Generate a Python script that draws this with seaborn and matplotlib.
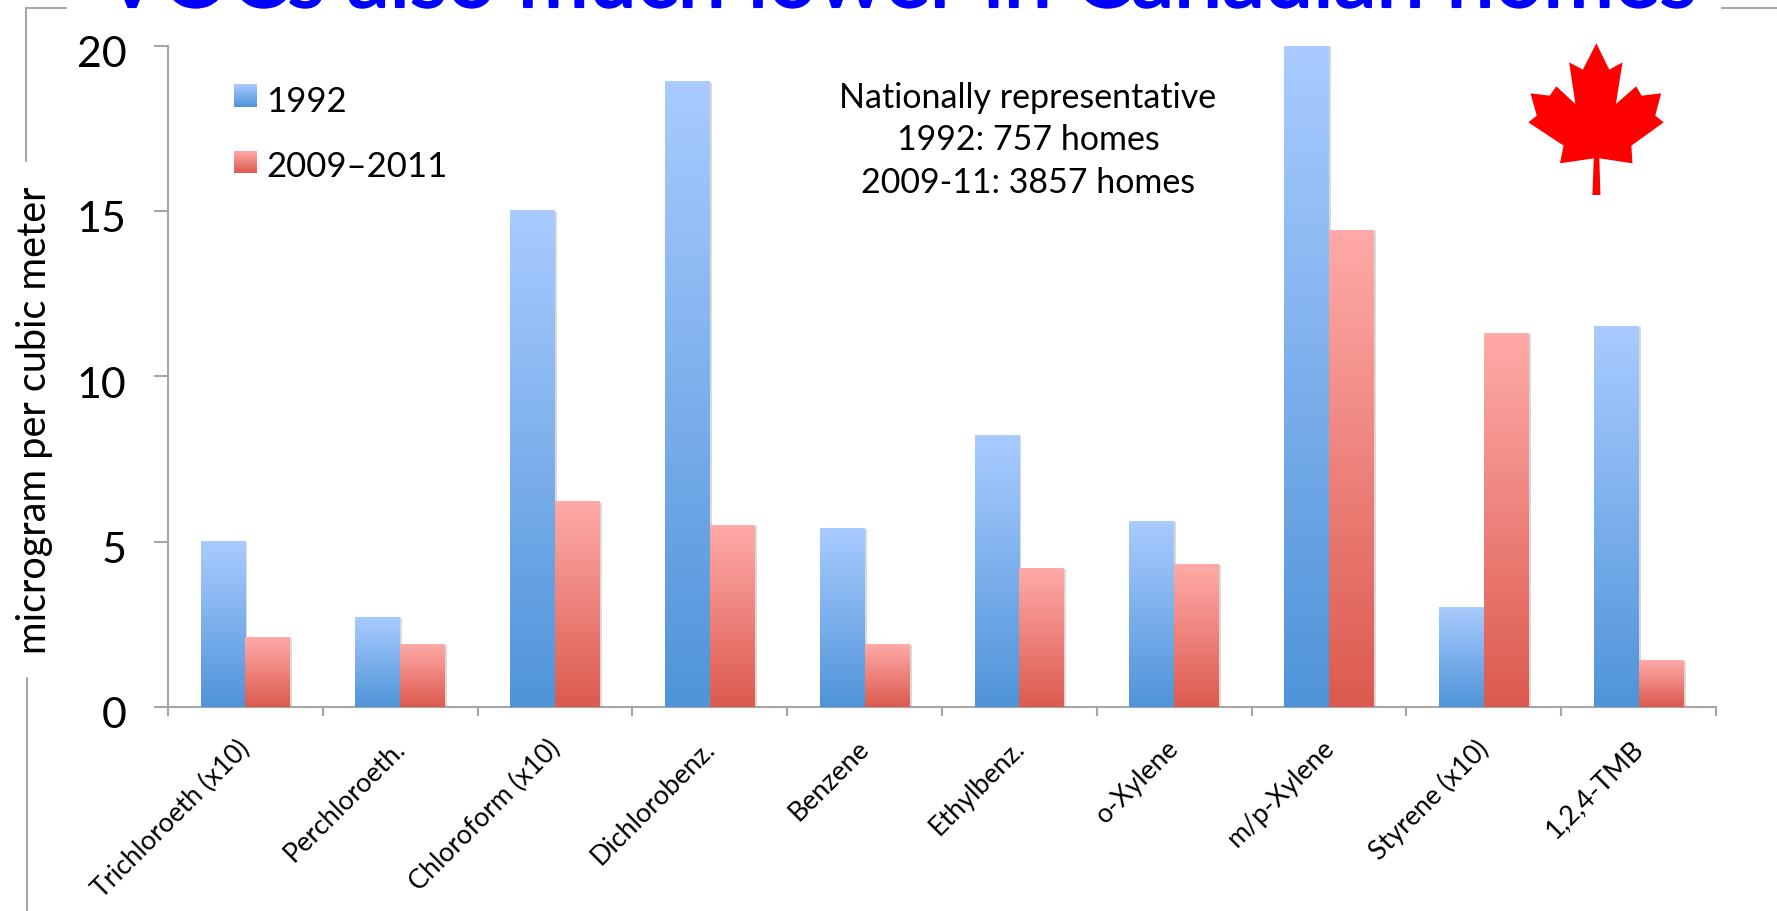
import numpy as np
import pandas as pd
import matplotlib
matplotlib.use("Agg")
import matplotlib.pyplot as plt
import matplotlib.patheffects as pe
from matplotlib.colors import LinearSegmentedColormap
from matplotlib.lines import Line2D
from matplotlib.patches import Polygon
from matplotlib.transforms import ScaledTranslation
import seaborn as sns

# Chart data
compounds = ["Trichloroeth (x10)", "Perchloroeth.", "Chloroform (x10)", "Dichlorobenz.", "Benzene",
             "Ethylbenz.", "o-Xylene", "m/p-Xylene", "Styrene (x10)", "1,2,4-TMB"]
values_1992 = [5.0, 2.7, 15.0, 18.9, 5.4, 8.2, 5.6, 20.0, 3.0, 11.5]
values_2009 = [2.1, 1.9, 6.2, 5.5, 1.9, 4.2, 4.3, 14.4, 11.3, 1.4]
series_names = ["1992", "2009–2011"]
y_ticks = [0, 5, 10, 15, 20]

W, H = 1777, 912
GREY = "#a6a6a6"
blue_cmap = LinearSegmentedColormap.from_list("b", ["#4f94d9", "#a9cbff"])
red_cmap = LinearSegmentedColormap.from_list("r", ["#dc5a4e", "#ffaaa8"])
gradient = np.linspace(1, 0, 128).reshape(-1, 1)

sns.set_theme(style="white")
plt.rcParams["font.family"] = ["Lato", "DejaVu Sans"]

df = pd.DataFrame({
    "compound": compounds * 2,
    "value": values_1992 + values_2009,
    "year": [series_names[0]] * 10 + [series_names[1]] * 10,
})

fig = plt.figure(figsize=(W / 100, H / 100), dpi=100, facecolor="white")
# pixel box of the plot area
ax = fig.add_axes([168 / W, 1 - 708 / H, (1716 - 168) / W, (708 - 46.5) / H])

sns.barplot(data=df, x="compound", y="value", hue="year", order=compounds, hue_order=series_names,
            palette=["#7fb0ea", "#ee8a84"], width=0.58, gap=0, errorbar=None, legend=False, ax=ax)

# Gradient fill for every bar, clipped to the bar shape
for container, cmap in zip(ax.containers, [blue_cmap, red_cmap]):
    for bar in container:
        bar.set_linewidth(0)
        bar.set_path_effects([pe.SimplePatchShadow(offset=(1.5, -0.5), alpha=0.22, shadow_rgbFace="#555555"), pe.Normal()])
        x0, h, w = bar.get_x(), bar.get_height(), bar.get_width()
        ax.imshow(gradient, cmap=cmap, aspect="auto", extent=[x0, x0 + w, 0, h], zorder=3, vmin=0, vmax=1)

ax.set_xlim(-0.5, 9.5)
ax.set_ylim(0, 20)
ax.set_xlabel("")
ax.set_ylabel("")
sns.despine(ax=ax)
for side in ["left", "bottom"]:
    ax.spines[side].set_color(GREY)
    ax.spines[side].set_linewidth(1.5)

ax.set_yticks(y_ticks)
ax.tick_params(axis="y", left=True, length=10, width=1.5, color=GREY, labelsize=31, pad=20, labelcolor="black")
# labels sit a few pixels below their ticks in the original
for label in ax.get_yticklabels():
    label.set_transform(label.get_transform() + ScaledTranslation(0, -5 / 100, fig.dpi_scale_trans))
ax.set_xticks(range(10))
ax.set_xticklabels(compounds, rotation=45, ha="right", va="top", rotation_mode="anchor", fontsize=19.3, color="black")
ax.set_xticks(np.arange(-0.5, 10), minor=True)
ax.tick_params(axis="x", which="major", bottom=False, pad=14)
ax.tick_params(axis="x", which="minor", bottom=True, length=6.5, width=1.5, color=GREY)
for label in ax.get_xticklabels():
    label.set_transform(label.get_transform() + ScaledTranslation(-8 / 100, 0, fig.dpi_scale_trans))


def px(x, y):
    return x / W, 1 - y / H


# Legend with gradient swatches
for name, cmap, top, bottom, ty in [(series_names[0], blue_cmap, 85, 108, 102), (series_names[1], red_cmap, 152, 174, 167)]:
    sw = fig.add_axes([234 / W, 1 - bottom / H, 23 / W, (bottom - top) / H])
    sw.imshow(gradient, cmap=cmap, aspect="auto", vmin=0, vmax=1)
    sw.axis("off")
    fig.text(*px(266, ty), name, fontsize=25, va="center", ha="left", color="black")

note_lines = ["Nationally representative", "1992: 757 homes", "2009-11: 3857 homes"]
for line, ty in zip(note_lines, [98, 140, 183]):
    fig.text(*px(1028, ty), line, fontsize=24.5, ha="center", va="center", color="black")

fig.text(*px(35, 420), "microgram per cubic meter", rotation=90, fontsize=28.5, ha="center", va="center", color="black")

# Title runs off the top of the slide; size it to its measured span
title = fig.text(*px(103, 8), "VOCs also much lower in Canadian homes", fontsize=80, color="#0000ff", ha="left", va="baseline")
fig.canvas.draw()
title.set_fontsize(80 * (1697 - 103) / title.get_window_extent().width)
title.set_path_effects([pe.withStroke(linewidth=1.5, foreground="#0000ff")])

# Slide frame remnants
for xs, ys in [([66, 26, 26], [9, 9, 162]), ([27, 27], [679, 912]), ([1722, 1777], [9, 9])]:
    fig.add_artist(Line2D([x / W for x in xs], [1 - y / H for y in ys], color=GREY, lw=1.5))

# Maple leaf, outline
leaf = [(1077, 133), (1112, 212), (1148, 190), (1130, 315), (1185, 262), (1200, 290), (1253, 283), (1237, 350),
        (1260, 370), (1172, 440), (1175, 493), (1085, 478), (1088, 588), (1066, 588), (1070, 478), (978, 493),
        (988, 440), (892, 370), (915, 350), (898, 283), (950, 290), (968, 262), (1020, 315), (1003, 190), (1040, 212)]
fig.add_artist(Polygon([px(1200 + x / 2.717, y / 3) for x, y in leaf], closed=True, facecolor="#ff0000",
                       edgecolor="none", transform=fig.transFigure))

fig.savefig("out.png", dpi=100)
